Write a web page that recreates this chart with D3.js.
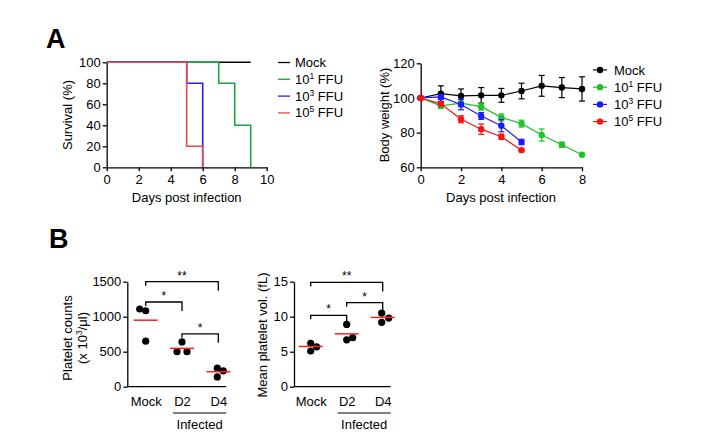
<!DOCTYPE html>
<html><head><meta charset="utf-8">
<script src="https://cdn.jsdelivr.net/npm/d3@7/dist/d3.min.js"></script>
<style>body{margin:0;background:#fff}svg{display:block;font-family:"Liberation Sans",Arial,sans-serif}</style>
</head><body><svg id="c" width="719" height="445"></svg>
<script>
// ---------- DATA ----------
const survivalGroups = ["Mock", "10^1 FFU", "10^3 FFU", "10^5 FFU"];
const survivalMock = [[0,100],[9,100]];
const survival1 = [[0,100],[7,100],[7,80],[8,80],[8,40],[9,40],[9,0]];
const survival3 = [[0,100],[5,100],[5,80],[6,80],[6,0]];
const survival5 = [[0,100],[5,100],[5,20],[6,20],[6,0]];
const survivalXTicks = [0,2,4,6,8,10];
const survivalYTicks = [0,20,40,60,80,100];

const weightDays = [0,1,2,3,4,5,6,7,8];
const weightMock = [100,102.5,101.2,101.5,101.5,104,107,106,105.2];
const weightMockErr = [0,4.5,4,4.5,4,4.5,6,5.8,7];
const weight1 = [100,95.5,97,95,88.8,85.2,78.6,73,67.2];
const weight1Err = [0,1.5,2,2,2,2,3.5,1.5,0];
const weight3 = [100,100.6,96.2,89.6,84,74.6];
const weight3Err = [0,1.5,3,2,3.5,1.5];
const weight5 = [100,96.6,87.7,82,77.6,69.9];
const weight5Err = [0,1,2,3,1.5,0.5];
const weightXTicks = [0,2,4,6,8];
const weightYTicks = [60,80,100,120];

const bCategories = ["Mock","D2","D4"];
const plateletDots = [[1110,1085,650],[640,500,500],[265,225,140]];
const plateletMeans = [950,548,214];
const plateletYTicks = [0,500,1000,1500];
const mpvDots = [[6.2,5.7,5.1],[8.9,6.7,7.0],[10.5,9.8,9.2]];
const mpvMeans = [5.75,7.55,9.9];
const mpvYTicks = [0,5,10,15];
const plateletBrackets = [{a:0,b:2,y:1500,t:"**"},{a:0,b:1,y:1210,t:"*"},{a:1,b:2,y:755,t:"*"}];
const mpvBrackets = [{a:0,b:2,y:14.9,t:"**"},{a:0,b:1,y:10.2,t:"*"},{a:1,b:2,y:12.0,t:"*"}];
// --------------------------

const svg = d3.select("#c");
const FS = 13;

function styleAxis(g){
  g.selectAll("path.domain").attr("stroke","#000").attr("stroke-width",1.3);
  g.selectAll(".tick line").attr("stroke","#000").attr("stroke-width",1.3);
  g.selectAll(".tick text").attr("font-size",FS).attr("fill","#000").attr("font-family","Liberation Sans, Arial, sans-serif");
}
function supText(sel, base, exp, rest){
  sel.append("tspan").text(base);
  sel.append("tspan").text(exp).attr("font-size",8.5).attr("dy",-5);
  sel.append("tspan").text(rest).attr("dy",5);
}
function groupLabel(sel, s){
  if(s==="Mock"){ sel.text("Mock"); return; }
  const m = s.match(/10\^(\d) (.*)/);
  supText(sel, "10", m[1], " "+m[2]);
}

// Panel letters
svg.append("text").attr("x",46).attr("y",48).attr("font-size",27).attr("font-weight","bold").text("A");
svg.append("text").attr("x",49).attr("y",248).attr("font-size",27).attr("font-weight","bold").text("B");

// ---------- Survival ----------
{
  const x = d3.scaleLinear().domain([0,10]).range([106.7,266.7]);
  const y = d3.scaleLinear().domain([0,100]).range([167.3,62.3]);
  const gx = svg.append("g").attr("transform",`translate(0,${y(0)})`).call(d3.axisBottom(x).tickValues(survivalXTicks).tickSize(4).tickPadding(3).tickSizeOuter(0));
  const gy = svg.append("g").attr("transform",`translate(${x(0)},0)`).call(d3.axisLeft(y).tickValues(survivalYTicks).tickSize(4).tickPadding(2).tickSizeOuter(0));
  styleAxis(gx); styleAxis(gy);
  const line = d3.line().x(d=>x(d[0])).y(d=>y(d[1]));
  const sets = [[survivalMock,"#000"],[survival1,"#19a33c"],[survival3,"#1f1fff"],[survival5,"#f04848"]];
  sets.forEach(([d,c])=>svg.append("path").attr("d",line(d)).attr("fill","none").attr("stroke",c).attr("stroke-width",1.6));
  svg.append("text").attr("x",186.7).attr("y",202).attr("text-anchor","middle").attr("font-size",FS).text("Days post infection");
  svg.append("text").attr("transform","translate(72,115) rotate(-90)").attr("text-anchor","middle").attr("font-size",FS).text("Survival (%)");
  const cols = ["#000","#19a33c","#1f1fff","#f04848"];
  survivalGroups.forEach((g,i)=>{
    const yy = 62.5 + i*16.8;
    svg.append("line").attr("x1",278).attr("x2",290).attr("y1",yy).attr("y2",yy).attr("stroke",cols[i]).attr("stroke-width",1.3);
    groupLabel(svg.append("text").attr("x",295).attr("y",yy+4.5).attr("font-size",FS), g);
  });
}

// ---------- Body weight ----------
{
  const x = d3.scaleLinear().domain([0,8]).range([420.7,582]);
  const y = d3.scaleLinear().domain([60,120]).range([167.3,63.3]);
  const gx = svg.append("g").attr("transform",`translate(0,${y(60)})`).call(d3.axisBottom(x).tickValues(weightXTicks).tickSize(4).tickPadding(3).tickSizeOuter(0));
  const gy = svg.append("g").attr("transform",`translate(${x(0)},0)`).call(d3.axisLeft(y).tickValues(weightYTicks).tickSize(4).tickPadding(2).tickSizeOuter(0));
  styleAxis(gx); styleAxis(gy);
  const series = [[weightMock,weightMockErr,"#000"],[weight1,weight1Err,"#22c02a"],[weight3,weight3Err,"#1a1aff"],[weight5,weight5Err,"#ff1010"]];
  series.forEach(([v,e,c])=>{
    const pts = v.map((d,i)=>[weightDays[i],d,e[i]]);
    const g = svg.append("g");
    g.append("path").attr("d",d3.line().x(d=>x(d[0])).y(d=>y(d[1]))(pts)).attr("fill","none").attr("stroke",c).attr("stroke-width",1.2);
    pts.forEach(p=>{
      if(p[2]>0){
        g.append("line").attr("x1",x(p[0])).attr("x2",x(p[0])).attr("y1",y(p[1]-p[2])).attr("y2",y(p[1]+p[2])).attr("stroke",c).attr("stroke-width",1.2);
        [p[1]-p[2],p[1]+p[2]].forEach(q=>g.append("line").attr("x1",x(p[0])-3).attr("x2",x(p[0])+3).attr("y1",y(q)).attr("y2",y(q)).attr("stroke",c).attr("stroke-width",1.2));
      }
      g.append("circle").attr("cx",x(p[0])).attr("cy",y(p[1])).attr("r",3.2).attr("fill",c);
    });
  });
  svg.append("text").attr("x",501).attr("y",202).attr("text-anchor","middle").attr("font-size",FS).text("Days post infection");
  svg.append("text").attr("transform","translate(389,115) rotate(-90)").attr("text-anchor","middle").attr("font-size",FS).text("Body weight (%)");
  const cols = ["#000","#22c02a","#1a1aff","#ff1010"];
  survivalGroups.forEach((g,i)=>{
    const yy = 70 + i*17.2;
    svg.append("line").attr("x1",593).attr("x2",607).attr("y1",yy).attr("y2",yy).attr("stroke",cols[i]).attr("stroke-width",1.2);
    svg.append("circle").attr("cx",600).attr("cy",yy).attr("r",3.2).attr("fill",cols[i]);
    groupLabel(svg.append("text").attr("x",614).attr("y",yy+4.5).attr("font-size",FS), g);
  });
}

// ---------- Panel B ----------
function dotPlot(x0, catX, yMax, ticks, dots, means, brackets){
  const y = d3.scaleLinear().domain([0,yMax]).range([386.7,281.7]);
  const x = d3.scalePoint().domain(bCategories).range(catX);
  const gx = svg.append("g").attr("transform",`translate(0,${y(0)})`).call(d3.axisBottom(x).tickSize(0).tickPadding(10));
  gx.select("path.domain").attr("d",`M${x0},0H${catX[1]+8}`);
  const gy = svg.append("g").attr("transform",`translate(${x0},0)`).call(d3.axisLeft(y).tickValues(ticks).tickFormat(d3.format("d")).tickSize(4).tickPadding(2).tickSizeOuter(0));
  styleAxis(gx); styleAxis(gy);
  gx.selectAll(".tick text").attr("dy","0.71em");
  dots.forEach((arr,ci)=>{
    const cx = x(bCategories[ci]);
    arr.forEach((v,j)=>{
      const o = dotOffsets[ci][j];
      svg.append("circle").attr("cx",cx+o).attr("cy",y(v)).attr("r",3.6).attr("fill","#000");
    });
    svg.append("line").attr("x1",cx-12).attr("x2",cx+12).attr("y1",y(means[ci])).attr("y2",y(means[ci])).attr("stroke","#ff2020").attr("stroke-width",1.5);
  });
  brackets.forEach(b=>{
    const xa = x(bCategories[b.a]), xb = x(bCategories[b.b]), yy = y(b.y);
    svg.append("path").attr("d",`M${xa},${yy+4}V${yy}H${xb}V${yy+9}`).attr("fill","none").attr("stroke","#000").attr("stroke-width",1.3);
    svg.append("text").attr("x",(xa+xb)/2).attr("y",yy-2).attr("text-anchor","middle").attr("font-size",12).text(b.t);
  });
  const x1 = x("D2")-9, x2 = x("D4")+8;
  svg.append("line").attr("x1",x1).attr("x2",x2).attr("y1",413).attr("y2",413).attr("stroke","#000").attr("stroke-width",1.2);
  svg.append("text").attr("x",(x1+x2)/2).attr("y",429).attr("text-anchor","middle").attr("font-size",FS).text("Infected");
  return y;
}
let dotOffsets = [[-6,0,0],[0,-5,5],[-1,5,-1]];
dotPlot(127.3,[145.7,218.3],1500,plateletYTicks,plateletDots,plateletMeans,plateletBrackets);
{
  const t = svg.append("text").attr("transform","translate(0,338) rotate(-90)").attr("text-anchor","middle").attr("font-size",FS);
  t.append("tspan").attr("x",0).attr("y",72).text("Platelet counts");
  const t2 = t.append("tspan").attr("x",0).attr("y",87);
  t2.append("tspan").text("(x 10");
  t2.append("tspan").text("3").attr("font-size",8.5).attr("dy",-5);
  t2.append("tspan").text("/μl)").attr("dy",5);
}
dotOffsets = [[0,6,0],[0,0,6],[-1,6,-1]];
dotPlot(294,[310.7,382.7],15,mpvYTicks,mpvDots,mpvMeans,mpvBrackets);
svg.append("text").attr("transform","translate(267,335) rotate(-90)").attr("text-anchor","middle").attr("font-size",FS).text("Mean platelet vol. (fL)");
</script></body></html>
